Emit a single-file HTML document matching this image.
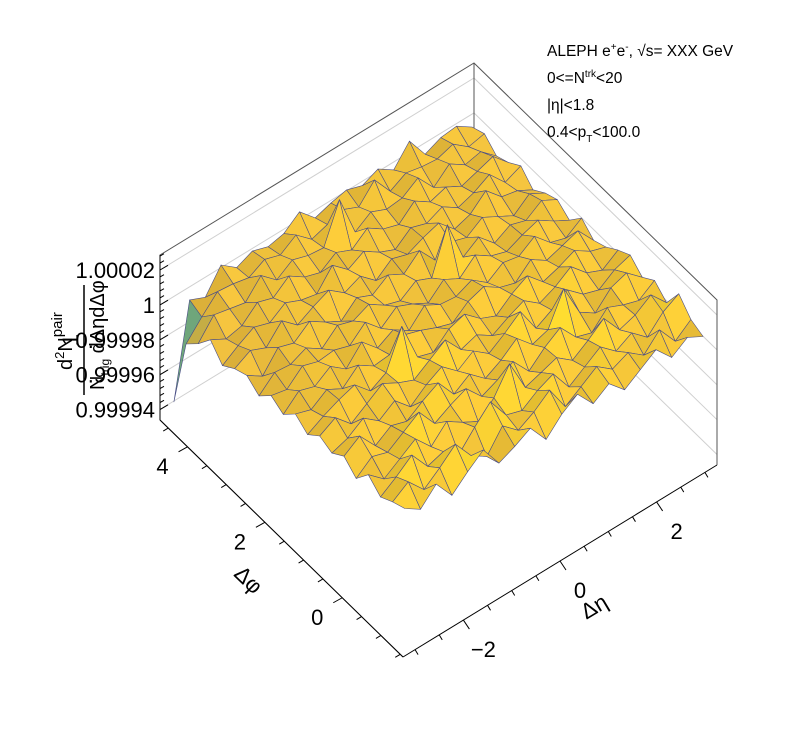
<!DOCTYPE html>
<html><head><meta charset="utf-8"><style>
html,body{margin:0;padding:0;background:#fff;}
svg{display:block;font-family:"Liberation Sans",sans-serif;}
</style></head><body>
<svg id="chart" width="798" height="731" viewBox="0 0 798 731">
<g id="walls"></g>
<g id="surface"></g>
<g id="axes"></g>
<g font-size="15.5" fill="#000">
<text x="547" y="56">ALEPH e<tspan dy="-6" font-size="10">+</tspan><tspan dy="6">e</tspan><tspan dy="-6" font-size="10">-</tspan><tspan dy="6">, √s= XXX GeV</tspan></text>
<text x="547" y="83">0&lt;=N<tspan dy="-6" font-size="10">trk</tspan><tspan dy="6">&lt;20</tspan></text>
<text x="547" y="110">|η|&lt;1.8</text>
<text x="547" y="137">0.4&lt;p<tspan dy="5" font-size="10">T</tspan><tspan dy="-5">&lt;100.0</tspan></text>
</g>
<g transform="translate(78,340) rotate(-90)" font-size="22" fill="#000">
<text x="0" y="0" text-anchor="middle">1</text>
<line x1="-55" y1="6" x2="55" y2="6" stroke="#000" stroke-width="1.5"/>
<text x="-30" y="-6" font-size="20">d<tspan dy="-8" font-size="13">2</tspan><tspan dy="8">N</tspan><tspan dy="-10" font-size="15">pair</tspan></text>
<text x="-50" y="26" font-size="20">N<tspan dy="5" font-size="12">trig</tspan><tspan dy="-5"> dΔηdΔφ</tspan></text>
</g>
<text x="235" y="580" font-size="22" transform="rotate(44 240 575)">Δφ</text>
<text x="580" y="615" font-size="22" transform="rotate(-31 592 606)">Δη</text>
</svg>
<script>
const zTicks=[0.99994,0.99996,0.99998,1,1.00002];
const zTickLabels=["0.99994","0.99996","0.99998","1","1.00002"];
const etaTicks=[-2,0,2];
const etaTickLabels=["−2","0","2"];
const phiTicks=[0,2,4];
const phiTickLabels=["0","2","4"];
// surface deviations from 1, in units of 1e-6; rows = Δφ bins (low→high), cols = Δη bins (low→high)
const surfaceRows=[
[13,7,16,4,12,19,6,10,15,3,12,18,7,13,4,10,16,6,12,7],
[10,16,6,13,21,9,3,15,7,12,19,4,10,16,9,13,6,15,3,10],
[6,12,19,7,10,3,13,22,9,6,12,16,3,9,15,7,12,4,13,18],
[12,4,10,16,6,15,9,4,12,26,7,10,13,6,12,19,7,10,16,6],
[3,10,7,13,19,7,12,16,6,10,15,4,12,18,7,4,13,9,6,12],
[9,15,4,10,7,13,18,6,12,4,9,16,7,10,28,9,3,12,15,7],
[4,7,13,6,12,3,10,15,7,13,6,12,19,4,9,15,7,4,10,13],
[7,12,3,9,15,10,6,12,18,7,10,4,9,13,6,10,16,7,3,9],
[1,6,10,13,4,9,30,7,4,12,15,7,3,10,15,6,9,13,7,4],
[6,3,9,4,12,6,7,13,10,6,3,10,13,7,4,12,6,9,12,1],
[-1,7,4,10,3,13,4,9,3,12,7,6,10,3,9,7,13,4,1,7],
[3,1,9,6,7,4,12,3,10,6,1,9,4,12,6,3,7,10,4,-1],
[-4,4,3,7,1,9,6,10,4,1,7,3,28,4,10,1,6,3,9,4],
[1,-5,6,3,10,4,-1,7,3,9,4,12,1,6,3,9,4,-1,6,1],
[-2,3,-1,9,1,6,10,3,7,-1,6,3,7,10,1,4,12,3,1,-4],
[-7,-1,4,1,7,3,1,12,4,9,3,-1,6,3,7,1,4,9,-1,3],
[1,-4,-2,6,3,10,4,1,7,3,10,4,1,9,3,6,1,4,7,-2],
[-8,3,1,-1,9,1,7,4,3,25,1,7,3,4,10,-1,7,1,3,-5],
[-15,-5,4,3,1,6,3,9,1,4,7,3,13,1,6,4,3,6,-1,1],
[-55,-2,-6,7,0,4,1,3,10,1,4,6,3,7,1,12,-1,3,4,-2]
];
const NS="http://www.w3.org/2000/svg";
const zMin=0.999934,zMax=1.0000286,etaMin=-3.25,etaMax=3.25,phiMin=-Math.PI/2,phiMax=1.5*Math.PI;
const H=165;
function P(a,b,zf){return [403+a*314-b*243, 657-a*192-b*237-zf*H];}
function zF(z){return (z-zMin)/(zMax-zMin);}
function aEta(e){return (e-etaMin)/(etaMax-etaMin);}
function bPhi(p){return (p-phiMin)/(phiMax-phiMin);}
function mk(tag,attrs,parent){const e=document.createElementNS(NS,tag);for(const k in attrs)e.setAttribute(k,attrs[k]);parent.appendChild(e);return e;}
const walls=document.getElementById('walls'),surf=document.getElementById('surface'),axes=document.getElementById('axes');
function pts(arr){return arr.map(p=>p[0].toFixed(1)+','+p[1].toFixed(1)).join(' ');}
zTicks.forEach(z=>{const f=zF(z);
 const l=mk('polyline',{points:pts([P(0,1,f),P(1,1,f),P(1,0,f)]),fill:'none',stroke:'#d0d0d0','stroke-width':1},walls);
 
 
});
const box=mk('polyline',{points:pts([P(0,0,0),P(0,1,0),P(0,1,1),P(1,1,1),P(1,0,1),P(1,0,0)]),fill:'none',stroke:'#555','stroke-width':1},walls);


const bv=mk('line',{x1:P(1,1,0)[0],y1:P(1,1,0)[1],x2:P(1,1,1)[0],y2:P(1,1,1)[1],stroke:'#555','stroke-width':1},walls);


function lerp(c1,c2,t){return c1.map((v,i)=>v+(c2[i]-v)*t);}
const stops=[[0,[20,70,230]],[0.35,[40,160,190]],[0.55,[150,185,110]],[0.66,[234,187,62]],[0.8,[244,198,56]],[1,[250,242,25]]];
function col(f,shade){f=Math.max(0,Math.min(1,f));let c=stops[stops.length-1][1];
 for(let k=0;k<stops.length-1;k++){if(f>=stops[k][0]&&f<=stops[k+1][0]){c=lerp(stops[k][1],stops[k+1][1],(f-stops[k][0])/(stops[k+1][0]-stops[k][0]));break;}}
 return 'rgb('+c.map(v=>Math.round(Math.min(255,v*shade))).join(',')+')';}
const nR=surfaceRows.length,nC=surfaceRows[0].length;
function V(i,j){const z=1+surfaceRows[j][i]*1e-6;return {a:(i+0.5)/nC,b:(j+0.5)/nR,f:zF(z)};}
const cells=[];
for(let j=0;j<nR-1;j++)for(let i=0;i<nC-1;i++)cells.push([i,j]);
cells.sort((p,q)=>(q[0]+q[1])-(p[0]+p[1]));
cells.forEach(([i,j])=>{
 const v=[V(i,j),V(i+1,j),V(i+1,j+1),V(i,j+1)];
 const fav=(v[0].f+v[1].f+v[2].f+v[3].f)/4;
 const dzA=((v[1].f+v[2].f)-(v[0].f+v[3].f))/2, dzB=((v[3].f+v[2].f)-(v[0].f+v[1].f))/2;
 const shade=Math.max(0.93,Math.min(1.04,1+dzB*1.2-dzA*0.8));
 const p=mk('polygon',{points:pts(v.map(q=>P(q.a,q.b,q.f))),fill:col(fav,shade),stroke:'#4b4f86','stroke-width':0.6,'stroke-linejoin':'round'},surf);
 
 
});
const zax=mk('line',{x1:P(0,1,0)[0],y1:P(0,1,0)[1],x2:P(0,1,1)[0],y2:P(0,1,1)[1],stroke:'#000','stroke-width':1},axes);


for(let z=0.99994;z<=1.000028;z+=0.000004){const f=zF(z);if(f<0||f>1)continue;const p=P(0,1,f);
 const major=zTicks.some(t=>Math.abs(t-z)<1e-9);
 const t=mk('line',{x1:p[0],y1:p[1],x2:p[0]+(major?8:4),y2:p[1]-(major?4.7:2.3),stroke:'#000','stroke-width':1},axes);
 
 }
zTicks.forEach((z,k)=>{const p=P(0,1,zF(z));
 const t=mk('text',{x:p[0]-5,y:p[1]+8,'text-anchor':'end','font-size':22},axes);t.textContent=zTickLabels[k];
 
 });
const pax=mk('line',{x1:P(0,0,0)[0],y1:P(0,0,0)[1],x2:P(0,1,0)[0],y2:P(0,1,0)[1],stroke:'#000','stroke-width':1},axes);


for(let ph=-1.5;ph<=4.7;ph+=0.5){const b=bPhi(ph);if(b<0||b>1)continue;const p=P(0,b,0);const major=Math.abs(ph-Math.round(ph/2)*2)<1e-6;
 const t=mk('line',{x1:p[0],y1:p[1],x2:p[0]-(major?9:5),y2:p[1]+(major?5:3),stroke:'#000','stroke-width':1},axes);
 
 }
phiTicks.forEach((ph,k)=>{const p=P(0,bPhi(ph),0);
 const t=mk('text',{x:p[0]-25,y:p[1]+27,'text-anchor':'middle','font-size':22},axes);t.textContent=phiTickLabels[k];
 
 });
const eax=mk('line',{x1:P(0,0,0)[0],y1:P(0,0,0)[1],x2:P(1,0,0)[0],y2:P(1,0,0)[1],stroke:'#000','stroke-width':1},axes);


for(let e=-3;e<=3.01;e+=0.5){const a=aEta(e);const p=P(a,0,0);const major=Math.abs(e-Math.round(e/2)*2)<1e-6;
 const t=mk('line',{x1:p[0],y1:p[1],x2:p[0]+(major?6:3),y2:p[1]+(major?9:5),stroke:'#000','stroke-width':1},axes);
 
 }
etaTicks.forEach((e,k)=>{const p=P(aEta(e),0,0);
 const t=mk('text',{x:p[0]+20,y:p[1]+37,'text-anchor':'middle','font-size':22},axes);t.textContent=etaTickLabels[k];
 
 });
</script>
</body></html>
